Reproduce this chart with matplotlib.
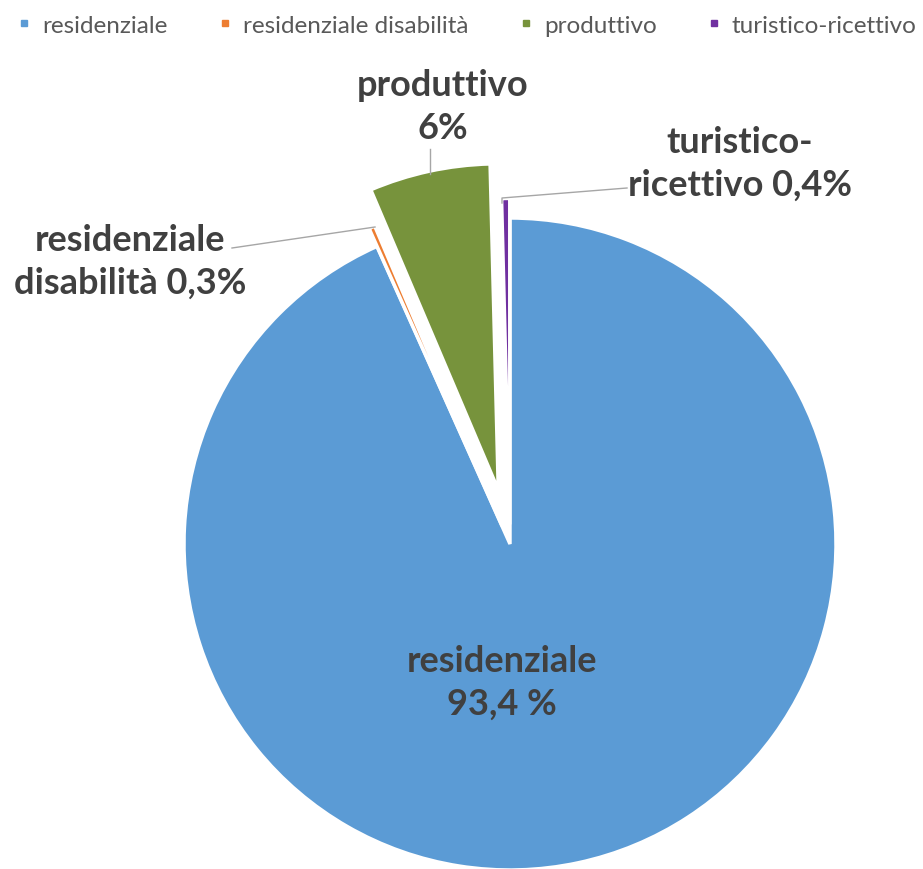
import matplotlib
matplotlib.use("Agg")
import matplotlib.pyplot as plt
from matplotlib.lines import Line2D

categories = ["residenziale", "residenziale disabilità", "produttivo", "turistico-ricettivo"]
values = [93.4, 0.3, 6.0, 0.4]
colors = ["#5B9BD5", "#ED7D31", "#77933C", "#7030A0"]
explode_frac = [0.0, 0.06, 0.17, 0.06]
label_texts = ["residenziale\n93,4 %", "residenziale\ndisabilità 0,3%", "produttivo\n6%", "turistico-\nricettivo 0,4%"]

plt.rcParams['font.family'] = ['Lato', 'DejaVu Sans']

W, H = 923, 870
fig = plt.figure(figsize=(W / 100, H / 100), dpi=100)
ax = fig.add_axes([0, 0, 1, 1])

cx, cy, R = 510, H - 545, 326
wedges, _ = ax.pie(values, colors=colors, explode=[e * R for e in explode_frac],
                   startangle=90, counterclock=False,
                   center=(cx, cy), radius=R, frame=True,
                   wedgeprops=dict(edgecolor='white', linewidth=2.5))
ax.set_xlim(0, W)
ax.set_ylim(0, H)
ax.axis('off')

tc = "#404040"
fs = 26
kw = dict(ha='center', va='center', fontsize=fs, fontweight='bold', color=tc, linespacing=1.38)
ax.text(502, H - 683, label_texts[0], **kw)
ax.text(130, H - 262, label_texts[1], **kw)
ax.text(443, H - 107, label_texts[2], **kw)
ax.text(740, H - 164, label_texts[3], **kw)

lc = "#A6A6A6"
ax.plot([232, 375], [H - 249, H - 228], color=lc, lw=1)
ax.plot([430, 430], [H - 150, H - 175], color=lc, lw=1)
ax.plot([627, 502, 502], [H - 189, H - 199, H - 204], color=lc, lw=1)

handles = [Line2D([], [], marker='s', linestyle='none', markersize=5, markerfacecolor=c,
                  markeredgecolor=c) for c in colors]
fig.legend(handles, categories, loc='center', bbox_to_anchor=(0.505, 1 - 26 / H), ncol=4,
           frameon=False, prop={'family': 'Lato', 'size': 17.5},
           handletextpad=0.4, columnspacing=2.0, borderpad=0, borderaxespad=0,
           labelcolor="#595959", handlelength=0.7)

fig.savefig("out.png", dpi=100)
